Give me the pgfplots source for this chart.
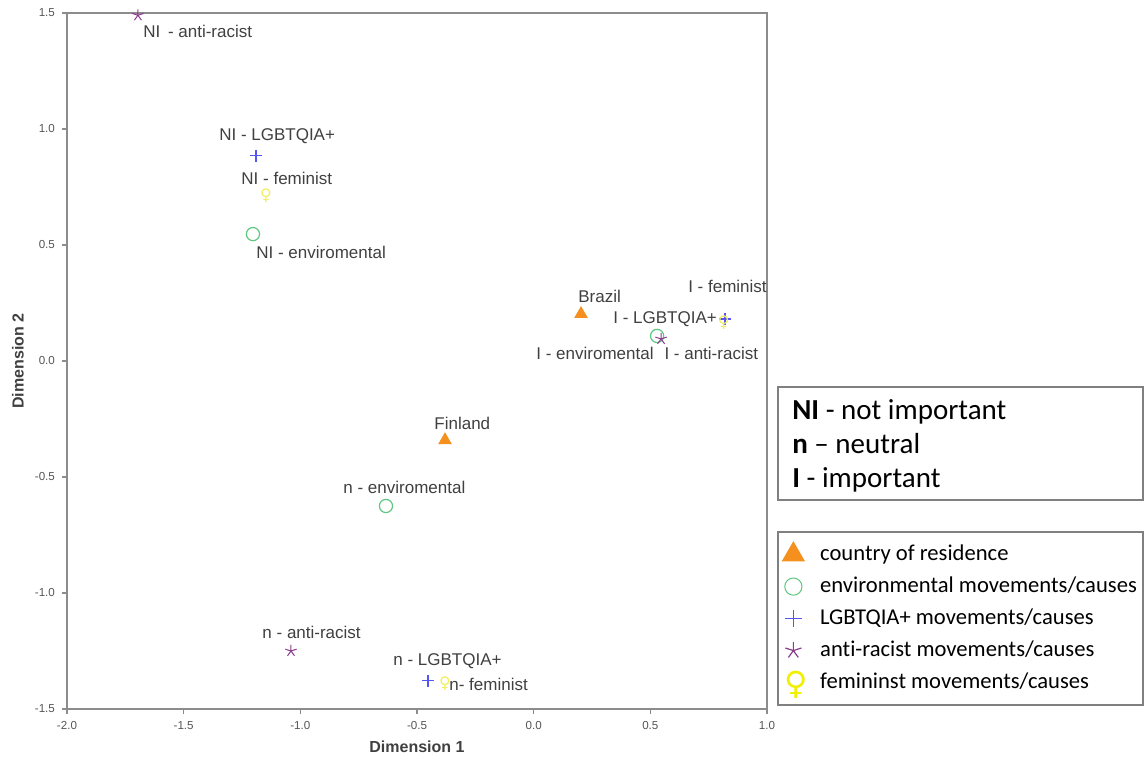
\documentclass[border=0pt]{standalone}
\usepackage{fontspec}
\setmainfont{Liberation Sans}
\newfontfamily\calibri[Ligatures=NoCommon]{Carlito}
\newfontfamily\dejavu{DejaVu Sans}
\usepackage{pgfplots}
\pgfplotsset{compat=1.18}
\definecolor{axgray}{HTML}{8C8C8C}
\definecolor{lbl}{HTML}{404040}
\definecolor{tickc}{HTML}{555555}
\definecolor{cOrange}{HTML}{F5901E}
\definecolor{cGreen}{HTML}{5DC77F}
\definecolor{cBlue}{HTML}{5555F5}
\definecolor{cPurple}{HTML}{8A3C8C}
\definecolor{cYellow}{HTML}{F0F000}
\definecolor{cYellowL}{HTML}{F2EE60}
\definecolor{boxc}{HTML}{808080}
\begin{document}
\begin{tikzpicture}
\begin{axis}[
  scale only axis, width=350pt, height=348pt,
  xmin=-2, xmax=1, ymin=-1.5, ymax=1.5,
  xtick={-2,-1.5,...,1}, ytick={-1.5,-1,...,1.5},
  tick align=outside, tick pos=left, major tick length=2.5pt,
  axis line style={axgray, line width=1pt},
  tick style={axgray, line width=0.6pt},
  ticklabel style={font=\fontsize{5.8}{6.5}\selectfont, text=tickc},
  /pgf/number format/assume math mode=true,
  xticklabel style={/pgf/number format/fixed, /pgf/number format/fixed zerofill, /pgf/number format/precision=1},
  yticklabel style={/pgf/number format/fixed, /pgf/number format/fixed zerofill, /pgf/number format/precision=1},
  xlabel={Dimension 1}, ylabel={Dimension 2},
  label style={font=\bfseries\fontsize{8}{9}\selectfont, text=lbl},
  xlabel style={at={(axis description cs:0.5,-0.0546)}, anchor=center},
  ylabel style={at={(axis description cs:-0.07,0.5)}, anchor=center},
  clip=false,
  legend cell align=left,
  legend style={at={(axis description cs:1.0215,0.2405)}, anchor=north west,
    draw=none, fill=none, font=\calibri\fontsize{11.3}{13}\selectfont,
    inner sep=0pt, column sep=6pt, row sep=6.2pt,
    nodes={inner sep=0pt, text height=7.8pt, text depth=2pt, text=black}},
]
% country of residence: Brazil, Finland
\addplot[only marks, mark=triangle*, mark size=3.5pt, color=cOrange, forget plot]
  coordinates {(0.203,0.203) (-0.380,-0.341)};
% environmental
\addplot[only marks, mark=o, mark size=3.3pt, color=cGreen, line width=0.6pt, forget plot]
  coordinates {(-1.203,0.547) (0.529,0.108) (-0.633,-0.625)};
% LGBTQIA+
\addplot[only marks, mark=+, mark size=3pt, color=cBlue, mark options={draw=cBlue}, line width=0.55pt, forget plot]
  coordinates {(-1.190,0.884) (0.820,0.181) (-0.453,-1.379)};
% anti-racist
\addplot[only marks, mark=star, mark size=3pt, color=cPurple, line width=0.5pt, forget plot]
  coordinates {(-1.696,1.490) (0.546,0.095) (-1.040,-1.250)};
% feminist
\addplot[only marks, mark=text, text mark={\dejavu\fontsize{8}{8}\selectfont\textcolor{cYellowL}{♀}}, color=cYellowL, forget plot]
  coordinates {(-1.147,0.711) (0.815,0.164) (-0.380,-1.390)};

\addlegendimage{only marks, mark=triangle*, mark size=6.3pt, color=cOrange}
\addlegendentry{country of residence}
\addlegendimage{only marks, mark=o, mark size=4.3pt, color=cGreen, line width=0.5pt}
\addlegendentry{environmental movements/causes}
\addlegendimage{only marks, mark=+, mark size=4.2pt, color=cBlue, line width=0.6pt}
\addlegendentry{LGBTQIA+ movements/causes}
\addlegendimage{only marks, mark=star, mark size=4.2pt, color=cPurple, line width=0.6pt}
\addlegendentry{anti-racist movements/causes}
\addlegendimage{legend image code/.code={\node[text=cYellow, font=\dejavu\fontsize{16}{16}\selectfont, inner sep=0pt] at (0.3cm-4.5pt,-3pt) {♀};}}
\addlegendentry{femininst movements/causes}

% point labels
\begin{scope}[every node/.style={font=\fontsize{8.5}{9}\selectfont, text=lbl, inner sep=0pt, anchor=west}]
\node at (axis cs:-1.674,1.422) {NI\, - anti-racist};
\node at (axis cs:-1.349,0.970) {NI - LGBTQIA+};
\node at (axis cs:-1.254,0.789) {NI - feminist};
\node at (axis cs:-1.190,0.470) {NI - enviromental};
\node at (axis cs:0.190,0.280) {Brazil};
\node at (axis cs:0.661,0.323) {I - feminist};
\node at (axis cs:0.340,0.181) {I - LGBTQIA+};
\node at (axis cs:0.010,0.034) {I - enviromental};
\node at (axis cs:0.559,0.034) {I - anti-racist};
\node at (axis cs:-0.427,-0.267) {Finland};
\node at (axis cs:-0.817,-0.543) {n - enviromental};
\node at (axis cs:-1.164,-1.168) {n - anti-racist};
\node at (axis cs:-0.603,-1.293) {n - LGBTQIA+};
\node at (axis cs:-0.363,-1.392) {n- feminist};
\end{scope}

% key boxes
\draw[boxc, line width=0.6pt] (axis cs:1.0471,-0.1121) rectangle (axis cs:2.6114,-0.5991);
\draw[boxc, line width=0.6pt] (axis cs:1.0471,-0.7371) rectangle (axis cs:2.6114,-1.4828);
\begin{scope}[every node/.style={font=\calibri\fontsize{14.5}{16}\selectfont, text=black, inner sep=0pt, anchor=base west}]
\node at (axis cs:1.107,-0.2513) {\textbf{NI} - not important};
\node at (axis cs:1.107,-0.3978) {\textbf{n} – neutral};
\node at (axis cs:1.107,-0.5444) {\textbf{I} - important};
\end{scope}

\coordinate (bbSW) at (axis cs:-2.2871,-1.7284);
\coordinate (bbNE) at (axis cs:2.6157,1.5560);
\end{axis}
\pgfresetboundingbox
\path[use as bounding box] (bbSW) rectangle (bbNE);
\end{tikzpicture}
\end{document}
